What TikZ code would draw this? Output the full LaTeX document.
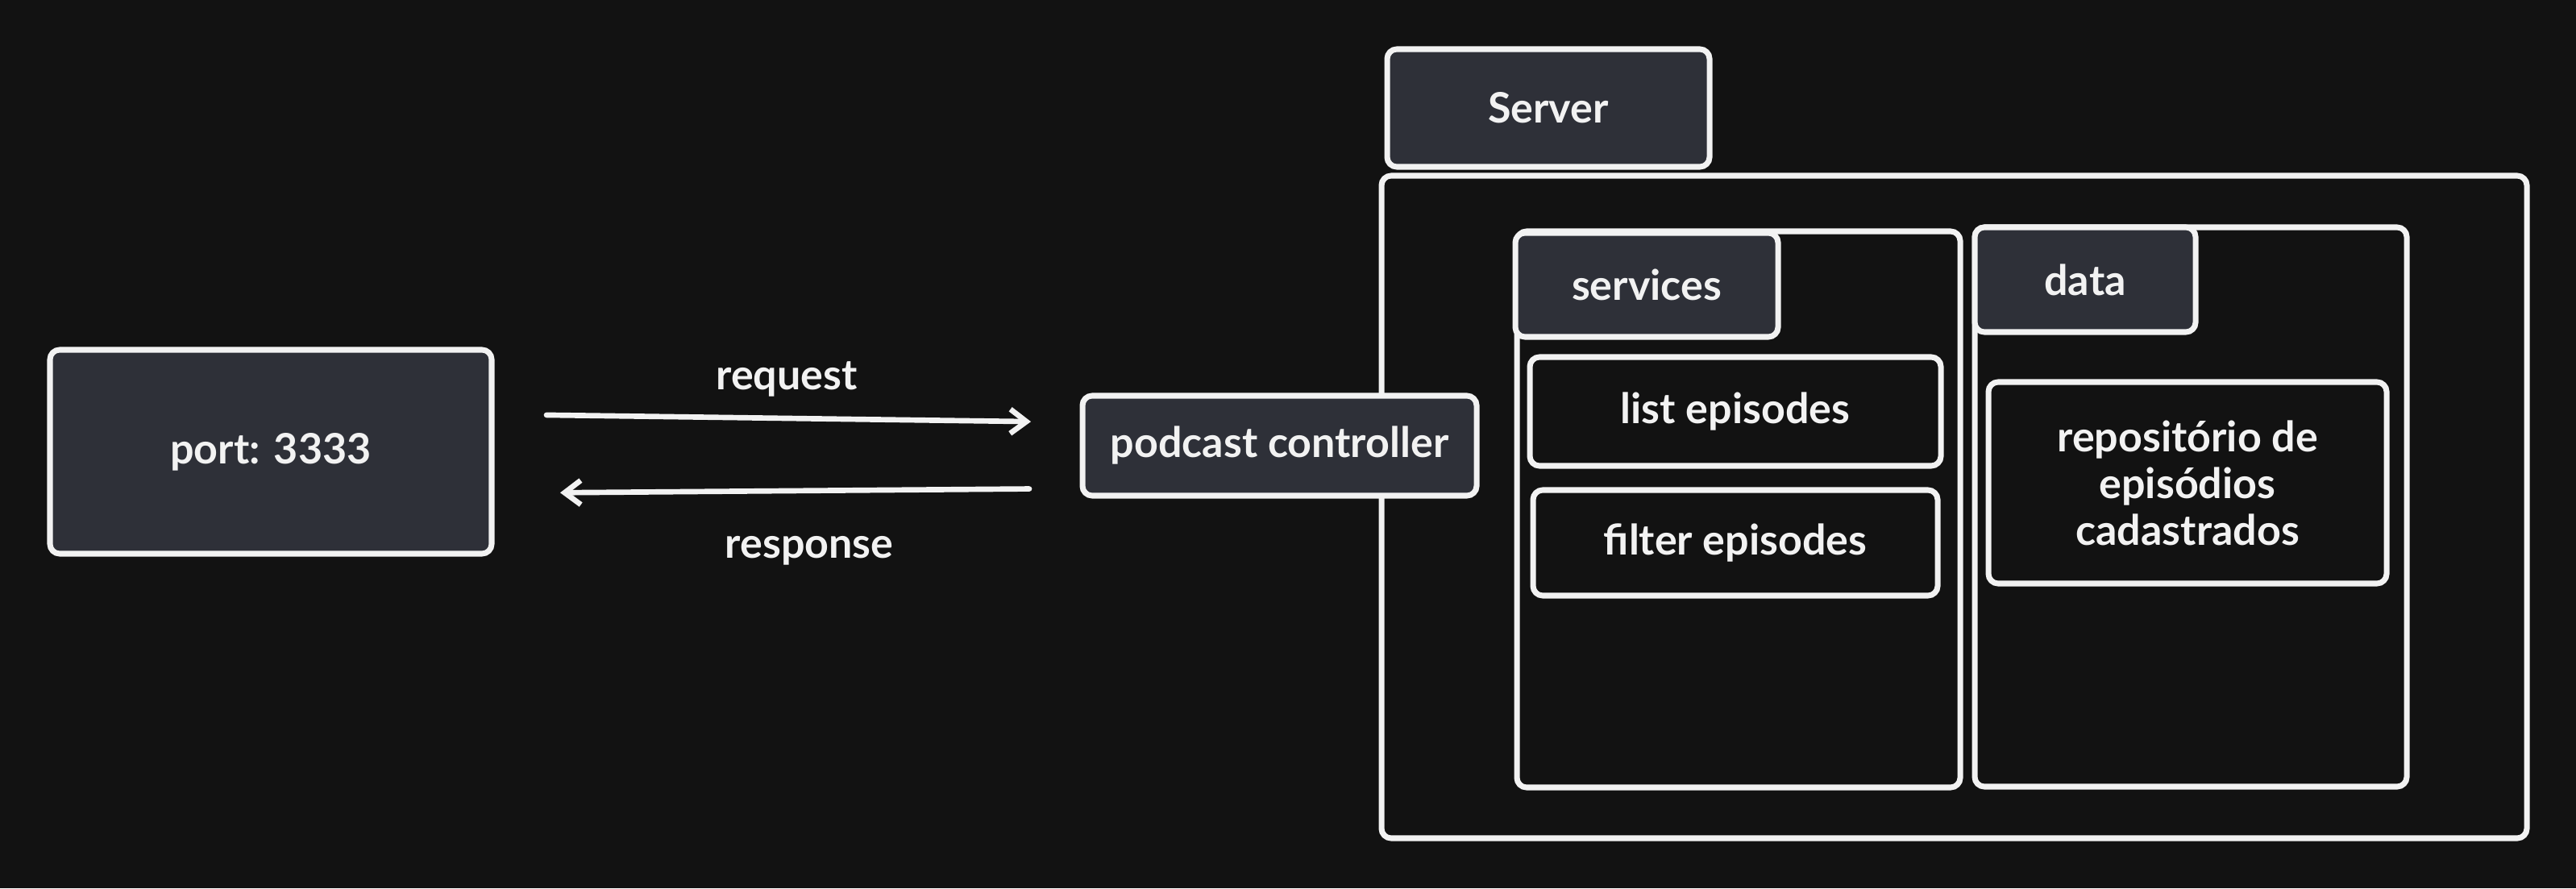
\documentclass[tikz,border=0pt]{standalone}
\usepackage{fontspec}
\setmainfont{Lato}
\usetikzlibrary{arrows.meta}
\definecolor{bgc}{HTML}{121212}
\definecolor{boxfill}{HTML}{2E3038}
\definecolor{ink}{HTML}{F2F2F2}
\tikzset{
  base/.style={draw=ink, line width=2pt, rounded corners=0.12cm, inner sep=0pt, outer sep=0pt,
    text=ink, font=\fontsize{14.8}{16.5}\selectfont\bfseries, align=center},
  filledbox/.style={base, fill=boxfill},
  darkbox/.style={base, fill=bgc},
  lbl/.style={text=ink, font=\fontsize{14.8}{16.5}\selectfont\bfseries},
  arr/.style={draw=ink, line width=1.9pt, line cap=round, -{Straight Barb[length=0.2cm,width=0.3cm,line width=1.9pt]}}
}
\begin{document}
\begin{tikzpicture}
\fill[bgc] (0,0) rectangle (31.96,11.02);
\useasboundingbox (0,0) rectangle (31.96,11.02);

\node[filledbox, minimum width=5.48cm, minimum height=2.53cm] (port) at (3.36,5.415) {port: 3333};

% server container
\node[darkbox, minimum width=14.21cm, minimum height=8.22cm] (srv) at (24.245,4.73) {};
\node[filledbox, minimum width=4.00cm, minimum height=1.46cm] (srvlbl) at (19.21,9.68) {Server};

% services
\node[darkbox, minimum width=5.50cm, minimum height=6.90cm] (svc) at (21.57,4.70) {};
\node[filledbox, minimum width=3.26cm, minimum height=1.29cm] (svclbl) at (20.43,7.485) {services};
\node[darkbox, minimum width=5.10cm, minimum height=1.35cm] (list) at (21.53,5.915) {list episodes};
\node[darkbox, minimum width=5.02cm, minimum height=1.31cm] (filter) at (21.53,4.285) {filter episodes};

% data
\node[darkbox, minimum width=5.36cm, minimum height=6.94cm] (data) at (27.18,4.73) {};
\node[filledbox, minimum width=2.74cm, minimum height=1.30cm] (datalbl) at (25.87,7.55) {data};
\node[darkbox, minimum width=4.94cm, minimum height=2.50cm] (repo) at (27.14,5.03) {repositório de\\episódios\\cadastrados};

% controller (on top of container edge)
\node[filledbox, minimum width=4.89cm, minimum height=1.24cm] (ctrl) at (15.875,5.49) {podcast controller};

% arrows
\draw[arr, shorten <=0.68cm, shorten >=0.64cm] ([yshift=0.465cm]port.east) -- ([yshift=0.29cm]ctrl.west);
\draw[arr, shorten <=0.66cm, shorten >=0.85cm] ([yshift=-0.53cm]ctrl.west) -- ([yshift=-0.515cm]port.east);

\node[lbl] (req) at (9.76,6.32) {request};
\node[lbl] (resp) at (10.04,4.19) {response};
\end{tikzpicture}
\end{document}
